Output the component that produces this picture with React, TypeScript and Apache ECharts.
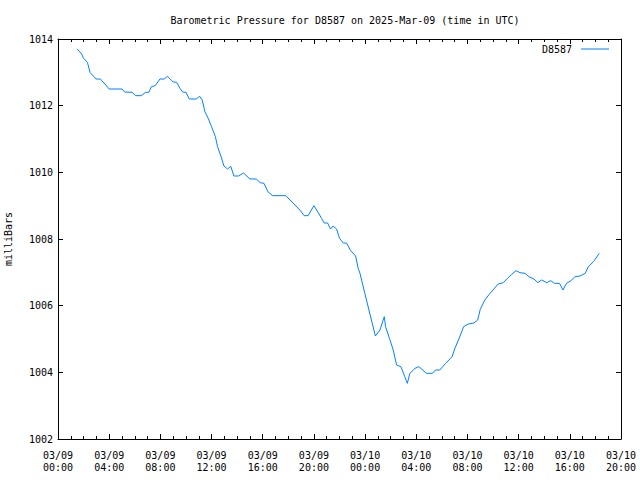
import React, { useEffect, useRef } from "react";
import * as echarts from "echarts";

const TITLE = "Barometric Pressure for D8587 on 2025-Mar-09 (time in UTC)";
const SERIES_NAME = "D8587";
const Y_NAME = "milliBars";

// hours since 2025-03-09 00:00 UTC
const hours = [
  1.5, 1.85, 2.0, 2.3, 2.5, 2.76, 2.97, 3.3, 3.67, 4.0, 5.0, 5.2, 5.8, 6.07, 6.5, 6.85, 7.1, 7.3, 7.6, 7.97,
  8.3, 8.55, 9.0, 9.27, 9.53, 9.74, 10.0, 10.26, 10.8, 11.07, 11.27, 11.48, 11.74, 12.0, 12.3, 12.47, 12.7,
  12.97, 13.25, 13.5, 13.75, 14.1, 14.5, 15.0, 15.5, 15.8, 16.1, 16.4, 16.77, 17.8, 18.9, 19.24, 19.55, 20.0,
  20.34, 20.6, 20.8, 21.07, 21.3, 21.5, 21.77, 22.0, 22.3, 22.55, 22.87, 23.26, 23.46, 23.6, 23.98, 24.3,
  24.56, 24.8, 25.16, 25.5, 25.6, 25.9, 26.2, 26.46, 26.8, 27.1, 27.3, 27.5, 27.9, 28.2, 28.8, 29.27, 29.5,
  29.84, 30.3, 30.8, 31.0, 31.4, 31.7, 32.06, 32.5, 32.8, 33.0, 33.36, 33.7, 34.0, 34.4, 34.8, 35.13, 35.45,
  35.8, 36.1, 36.5, 36.8, 37.2, 37.5, 37.8, 38.2, 38.5, 38.8, 39.2, 39.46, 39.74, 40.1, 40.4, 40.8, 41.2,
  41.45, 41.85, 42.3,
];

const pressure = [
  1013.7, 1013.55, 1013.42, 1013.3, 1013.0, 1012.89, 1012.8, 1012.8, 1012.65, 1012.5, 1012.5, 1012.41, 1012.4,
  1012.3, 1012.3, 1012.4, 1012.4, 1012.57, 1012.6, 1012.8, 1012.8, 1012.88, 1012.71, 1012.7, 1012.52, 1012.41,
  1012.4, 1012.2, 1012.2, 1012.28, 1012.17, 1011.82, 1011.62, 1011.37, 1011.07, 1010.77, 1010.52, 1010.19,
  1010.1, 1010.18, 1009.89, 1009.89, 1009.98, 1009.8, 1009.8, 1009.69, 1009.67, 1009.42, 1009.3, 1009.3,
  1008.87, 1008.7, 1008.7, 1009.0, 1008.79, 1008.62, 1008.48, 1008.48, 1008.3, 1008.39, 1008.3, 1008.02,
  1007.88, 1007.88, 1007.65, 1007.49, 1007.12, 1006.97, 1006.37, 1005.87, 1005.47, 1005.09, 1005.27, 1005.67,
  1005.37, 1005.02, 1004.67, 1004.22, 1004.17, 1003.87, 1003.67, 1003.97, 1004.12, 1004.17, 1003.97, 1003.97,
  1004.07, 1004.07, 1004.27, 1004.47, 1004.7, 1005.07, 1005.37, 1005.45, 1005.48, 1005.57, 1005.89, 1006.17,
  1006.34, 1006.47, 1006.65, 1006.69, 1006.82, 1006.94, 1007.05, 1006.99, 1006.97, 1006.87, 1006.8, 1006.69,
  1006.77, 1006.69, 1006.75, 1006.67, 1006.67, 1006.47, 1006.67, 1006.75, 1006.87, 1006.89, 1006.97, 1007.17,
  1007.32, 1007.57,
];

const X_MIN = 0;
const X_MAX = 44;
const X_STEP = 4;
const Y_MIN = 1002;
const Y_MAX = 1014;
const Y_STEP = 2;

const FONT = "'DejaVu Sans Mono', 'Liberation Mono', monospace";

const pad = (n: number) => (n < 10 ? "0" + n : "" + n);
const fmtHour = (v: number) => {
  const day = 9 + Math.floor(v / 24);
  const hr = Math.round(v % 24);
  return "03/" + pad(day) + "\n" + pad(hr) + ":00";
};

export default function App() {
  const ref = useRef<HTMLDivElement>(null);
  useEffect(() => {
    if (!ref.current) return;
    const chart = echarts.init(ref.current, null, { renderer: "svg" });
    const axisCommon = {
      axisLine: { show: true, onZero: false, lineStyle: { color: "#000", width: 1 } },
      splitLine: { show: false },
    };
    const xBase = {
      type: "value",
      min: X_MIN,
      max: X_MAX,
      interval: X_STEP,
      ...axisCommon,
      axisTick: { show: true, inside: true, length: 5, lineStyle: { color: "#000" } },
      minorTick: { show: true, splitNumber: 4, length: 3, lineStyle: { color: "#000" } },
    };
    const yBase = {
      type: "value",
      min: Y_MIN,
      max: Y_MAX,
      interval: Y_STEP,
      ...axisCommon,
      axisTick: { show: true, inside: true, length: 5, lineStyle: { color: "#000" } },
    };
    chart.setOption({
      animation: false,
      backgroundColor: "#fff",
      title: {
        text: TITLE,
        left: 340,
        textAlign: "center",
        top: 10,
        textStyle: { fontFamily: FONT, fontSize: 10, fontWeight: "normal", color: "#000" },
      },
      legend: {
        data: [SERIES_NAME],
        right: 26,
        top: 39,
        align: "right",
        icon: "rect",
        itemWidth: 28,
        itemHeight: 1,
        textStyle: { fontFamily: FONT, fontSize: 10, color: "#000", padding: [0, 4, 0, 0] },
      },
      grid: { left: 58, right: 19, top: 39, bottom: 41, containLabel: false, outerBoundsMode: "none" },
      xAxis: [
        {
          ...xBase,
          position: "bottom",
          axisLabel: {
            show: true,
            margin: 10,
            fontFamily: FONT,
            fontSize: 10,
            lineHeight: 12,
            color: "#000",
            formatter: fmtHour,
          },
        },
        { ...xBase, position: "top", axisLabel: { show: false } },
      ],
      yAxis: [
        {
          ...yBase,
          position: "left",
          name: Y_NAME,
          nameLocation: "middle",
          nameGap: 45,
          nameTextStyle: { fontFamily: FONT, fontSize: 10, color: "#000" },
          axisLabel: {
            show: true,
            margin: 5,
            fontFamily: FONT,
            fontSize: 10,
            color: "#000",
            formatter: (v: number) => String(v),
          },
        },
        { ...yBase, position: "right", axisLabel: { show: false } },
      ],
      series: [
        {
          name: SERIES_NAME,
          type: "line",
          xAxisIndex: 0,
          yAxisIndex: 0,
          symbol: "none",
          lineStyle: { color: "#0080ff", width: 1 },
          itemStyle: { color: "#0080ff" },
          data: hours.map((h, i) => [h, pressure[i]]),
        },
      ],
    });
    return () => chart.dispose();
  }, []);
  return <div ref={ref} style={{ width: 640, height: 480, position: "absolute", left: 0, top: 0 }} />;
}
